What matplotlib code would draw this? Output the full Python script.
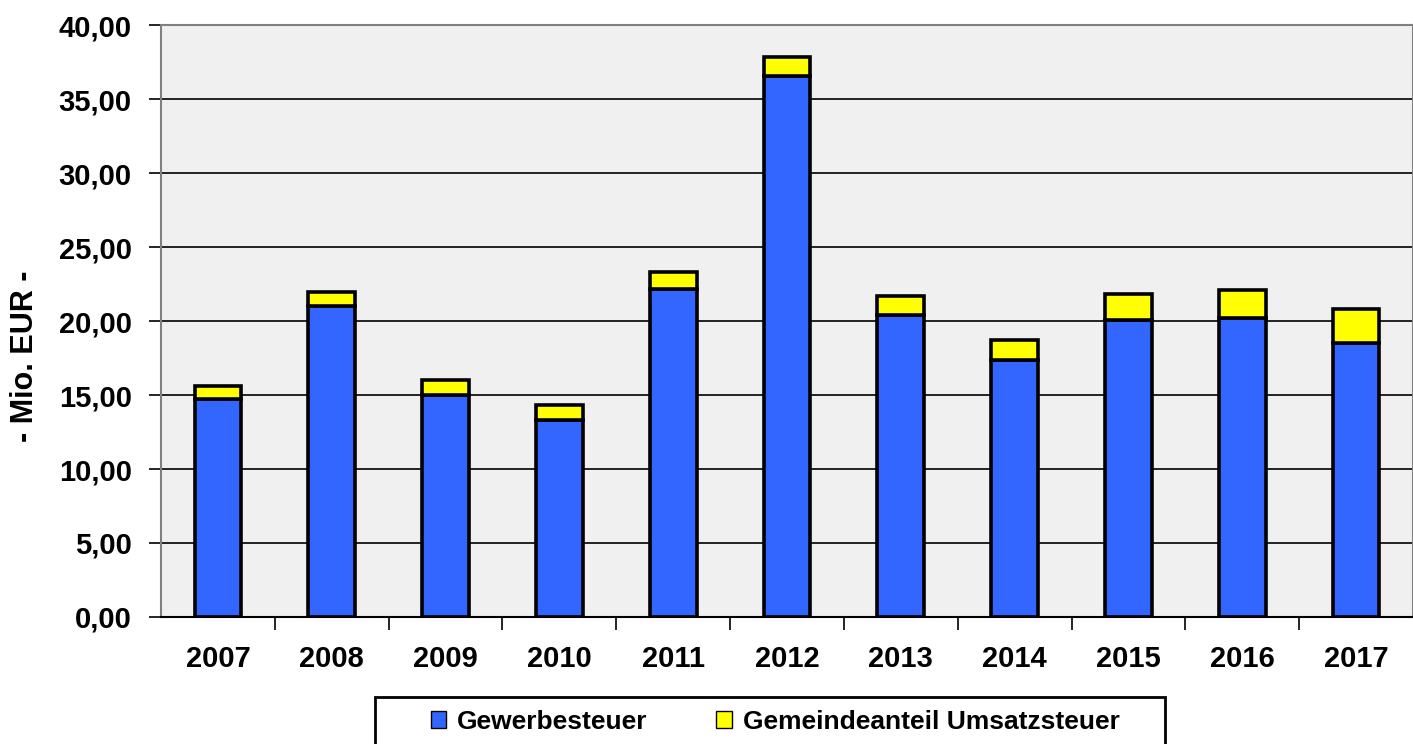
import matplotlib
matplotlib.use('Agg')
import matplotlib.pyplot as plt
from matplotlib.patches import Rectangle, Patch
import numpy as np

years = ['2007', '2008', '2009', '2010', '2011', '2012', '2013', '2014', '2015', '2016', '2017']
gewerbesteuer = [14.70, 21.03, 15.00, 13.31, 22.16, 36.57, 20.41, 17.36, 20.07, 20.22, 18.51]
gesamt = [15.60, 21.98, 16.01, 14.32, 23.33, 37.86, 21.69, 18.72, 21.82, 22.09, 20.81]
umsatzsteuer = [t - g for t, g in zip(gesamt, gewerbesteuer)]

plt.rcParams['font.family'] = 'Liberation Sans'
plt.rcParams['font.weight'] = 'bold'

fig = plt.figure(figsize=(14.13, 7.44), dpi=100)
ax = fig.add_axes([161 / 1413, 127 / 744, 1252 / 1413, 592 / 744])
ax.set_facecolor('#f0f0f0')

x = np.arange(len(years))
w = 0.41
ax.bar(x, gewerbesteuer, width=w, color='#3366ff', edgecolor='black', linewidth=2.6, zorder=3)
ax.bar(x, umsatzsteuer, width=w, bottom=gewerbesteuer, color='#ffff00', edgecolor='black', linewidth=2.6, zorder=3)

ax.set_xlim(-0.5, len(years) - 0.5)
ax.set_ylim(0, 40)
ax.set_yticks(np.arange(0, 41, 5))
ax.set_yticklabels([f'{v:.2f}'.replace('.', ',') for v in np.arange(0, 41, 5)], fontsize=21, fontweight='bold')
ax.yaxis.grid(True, color='black', linewidth=1.2, zorder=1)
ax.set_axisbelow(True)

ax.set_xticks(x)
ax.set_xticklabels(years, fontsize=21, fontweight='bold')
ax.tick_params(axis='x', length=0, pad=20)
ax.set_xticks(np.arange(0.5, len(years) - 0.5, 1), minor=True)
ax.tick_params(axis='x', which='minor', length=9, width=1.2, color='black')
ax.tick_params(axis='y', length=9, width=1.2, color='black', pad=12)

for s in ['left', 'top', 'right']:
    ax.spines[s].set_color('#808080')
    ax.spines[s].set_linewidth(1.5)
ax.spines['bottom'].set_color('black')
ax.spines['bottom'].set_linewidth(1.5)

ax.set_ylabel('- Mio. EUR -', fontsize=22, fontweight='bold')
ax.yaxis.set_label_coords(-0.097, 0.44)

# legend box
fig.patches.append(Rectangle((375 / 1413, -0.05), 790 / 1413, 0.05 + 47 / 744,
                             transform=fig.transFigure, facecolor='white', edgecolor='black',
                             linewidth=2))
handles = [Patch(facecolor='#3366ff', edgecolor='black', label='Gewerbesteuer'),
           Patch(facecolor='#ffff00', edgecolor='black', label='Gemeindeanteil Umsatzsteuer')]
fig.legend(handles=handles, loc='center', bbox_to_anchor=(775 / 1413, 22 / 744), ncol=2,
           frameon=False, prop={'weight': 'bold', 'size': 19},
           handlelength=0.6, handleheight=0.6, handletextpad=0.4, columnspacing=2.6)

fig.savefig('out.png', dpi=100)
